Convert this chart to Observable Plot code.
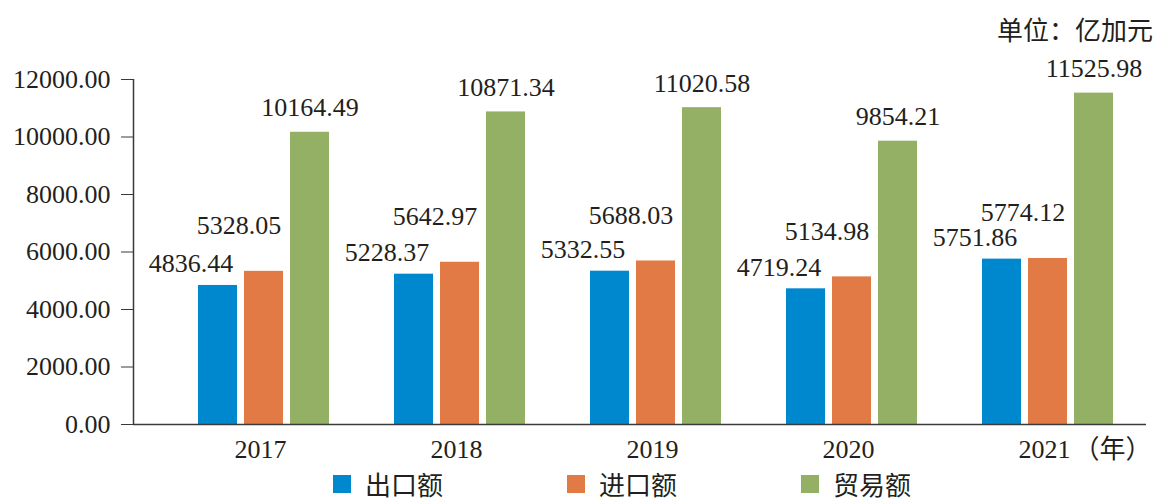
<!DOCTYPE html>
<html>
<head>
<meta charset="utf-8">
<script src="https://cdn.jsdelivr.net/npm/d3@7"></script>
<script src="https://cdn.jsdelivr.net/npm/@observablehq/plot@0.6"></script>
<style>
  html, body { margin: 0; padding: 0; background: #fff; }
  #wrap { width: 1159px; position: relative; font-family: "Liberation Serif", "Noto Sans CJK SC", serif; color: #231f20; }
  #unit { height: 44px; position: relative; }
  #unit span { position: absolute; right: 6px; top: 16px; font-family: "Noto Sans CJK SC", sans-serif; font-size: 26px; line-height: 26px; }
  #chart { position: relative; height: 426px; }
  #chart svg { overflow: visible; display: block; position: absolute; left: 0; top: 0; }
  #chart g[aria-label="year-suffix"] text { letter-spacing: 4px; }
  #legend { height: 28px; position: relative; display: flex; align-items: center; padding-left: 333px; gap: 124px; font-family: "Noto Sans CJK SC", sans-serif; font-size: 26px; line-height: 28px; }
  .item { display: flex; align-items: center; }
  .sw { width: 18px; height: 18px; margin-right: 14px; }
</style>
</head>
<body>
<div id="wrap">
  <div id="unit"><span>单位：亿加元</span></div>
  <div id="chart"></div>
  <div id="legend"></div>
</div>
<script>
const years = ["2017", "2018", "2019", "2020", "2021"];
const seriesNames = ["出口额", "进口额", "贸易额"];
const exportValues = [4836.44, 5228.37, 5332.55, 4719.24, 5751.86];
const importValues = [5328.05, 5642.97, 5688.03, 5134.98, 5774.12];
const tradeValues = [10164.49, 10871.34, 11020.58, 9854.21, 11525.98];
const yTicks = [0, 2000, 4000, 6000, 8000, 10000, 12000];
const yearSuffix = "（年）";
const colors = ["#0088cf", "#e27a45", "#93b064"];

const seriesValues = [exportValues, importValues, tradeValues];
const data = [];
years.forEach((yr, i) => {
  seriesNames.forEach((s, j) => data.push({year: yr, series: s, value: seriesValues[j][i]}));
});

const serif = "'Liberation Serif', 'Noto Sans CJK SC', serif";
const cjk = "'Noto Sans CJK SC', sans-serif";
const ink = "#231f20";
const axisInk = "#3a3a3a";
const labelStyle = [
  {dx: -27, dy: -13},
  {dx: -25, dy: -37},
  {dx: 0, dy: -16}
];

const frameOpts = {
  width: 1159,
  height: 426,
  marginTop: 35,
  marginBottom: 46,
  marginLeft: 133,
  marginRight: 13,
  style: {fontFamily: serif, fontSize: "26px", color: ink, background: "transparent"}
};
const yScale = {domain: [0, 12000], axis: null};

// Layer 1: grouped bars, value labels and year labels (faceted by year)
const bars = Plot.plot({
  ...frameOpts,
  fx: {domain: years, paddingInner: 0, paddingOuter: 0.0711, align: 1, axis: null, label: null},
  x: {domain: seriesNames, paddingInner: 0.15, paddingOuter: 0.7, axis: null, label: null},
  y: yScale,
  color: {domain: seriesNames, range: colors},
  marks: [
    Plot.barY(data, {fx: "year", x: "series", y: "value", fill: "series"}),
    ...seriesNames.map((s, j) => Plot.text(data.filter(d => d.series === s), {
      fx: "year", x: "series", y: "value",
      text: d => d.value.toFixed(2),
      lineAnchor: "bottom", dx: labelStyle[j].dx, dy: labelStyle[j].dy,
      fontSize: 26, fontFamily: serif, fill: ink
    })),
    Plot.axisFx({anchor: "bottom", label: null, tickSize: 0, tickPadding: 15, fontSize: 26, fontFamily: serif, dx: -4, fill: ink}),
    Plot.text([yearSuffix], {fx: [years[years.length - 1]], text: d => d, frameAnchor: "bottom", textAnchor: "start", lineAnchor: "top", dx: 25, dy: 15, fontSize: 26, fontFamily: cjk, fill: ink, ariaLabel: "year-suffix"})
  ]
});

// Layer 2: y axis and axis lines over the whole plot frame
const axes = Plot.plot({
  ...frameOpts,
  x: {type: "linear", domain: [0, 1], axis: null},
  y: yScale,
  marks: [
    Plot.axisY({ticks: yTicks, label: null, tickSize: 12, tickPadding: 11, tickFormat: d => d.toFixed(2), fontSize: 26, fontFamily: serif, stroke: axisInk, fill: ink}),
    Plot.ruleX([0], {y1: 0, y2: 12000, stroke: axisInk, strokeWidth: 1.5}),
    Plot.ruleY([0], {stroke: axisInk, strokeWidth: 1.5})
  ]
});

const chart = document.getElementById("chart");
chart.appendChild(bars);
chart.appendChild(axes);

const legend = document.getElementById("legend");
seriesNames.forEach((s, j) => {
  const it = document.createElement("div");
  it.className = "item";
  const sw = document.createElement("div");
  sw.className = "sw";
  sw.style.background = colors[j];
  const t = document.createElement("span");
  t.textContent = s;
  it.appendChild(sw);
  it.appendChild(t);
  legend.appendChild(it);
});
</script>
</body>
</html>
